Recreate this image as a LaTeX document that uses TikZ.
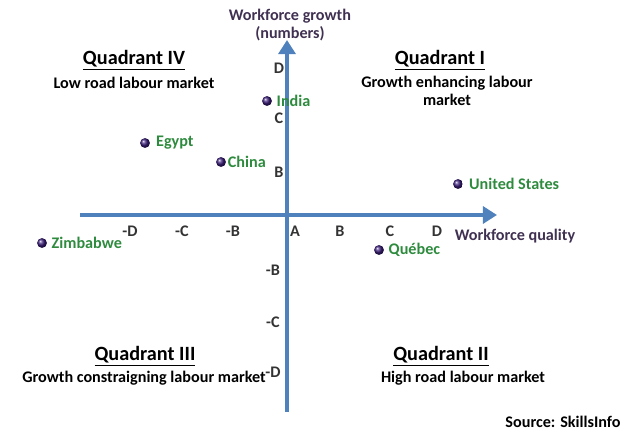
\documentclass[tikz,border=0pt]{standalone}
\usepackage{fontspec}
\setmainfont{Carlito}
\usetikzlibrary{arrows.meta}
\definecolor{axisblue}{HTML}{4F81BD}
\definecolor{titlepurple}{HTML}{403152}
\definecolor{labelgreen}{HTML}{2E8B3E}
\definecolor{dotpurple}{HTML}{3B1F7A}
\newcommand{\lbfont}{\fontsize{11.5}{13}\selectfont\bfseries}
\begin{document}
\begin{tikzpicture}[x=0.025cm,y=-0.025cm,
  tick label/.style={font=\lbfont,text=black!80},
  country/.style={font=\lbfont,text=labelgreen,anchor=west,inner sep=1pt},
  dot/.style={circle,inner sep=0pt,minimum size=7pt,ball color=dotpurple,draw=none},
  quad title/.style={font=\bfseries\Large},
  quad text/.style={font=\lbfont,align=center},
  axis/.style={axisblue,line width=2.8pt,-{Triangle[length=10pt,width=12pt]}}]
\useasboundingbox (0,0) rectangle (640,438);
% axes
\coordinate (xl) at (80,215);
\coordinate (xr) at (497,215);
\coordinate (yb) at (287,412);
\coordinate (yt) at (287,40);
\draw[axis] (xl) -- (xr);
\draw[axis] (yb) -- (yt);
\node[font=\lbfont,text=titlepurple,align=center] (ytitle) at (290,25) {Workforce growth\\(numbers)};
\node[font=\lbfont,text=titlepurple] (xtitle) at (515,236) {Workforce quality};
% tick labels
\node[tick label] (xmD) at (130,231) {-D};
\node[tick label] (xmC) at (182,231) {-C};
\node[tick label] (xmB) at (233,231) {-B};
\node[tick label] (xA) at (295,231) {A};
\node[tick label] (xB) at (340,231) {B};
\node[tick label] (xC) at (390,231) {C};
\node[tick label] (xD) at (437,231) {D};
\node[tick label] (yD) at (279,68) {D};
\node[tick label] (yC) at (279,118) {C};
\node[tick label] (yB) at (279,172) {B};
\node[tick label] (ymB) at (273,270) {-B};
\node[tick label] (ymC) at (273,322) {-C};
\node[tick label] (ymD) at (273,372) {-D};
% countries
\node[dot] (india) at (267,101) {};
\node[country] at ([xshift=2pt]india.east) {India};
\node[dot] (egypt) at (145,143) {};
\node[country] at ([xshift=3pt]egypt.east) {Egypt};
\node[dot] (china) at (221,162) {};
\node[country] at (china.east) {China};
\node[dot] (usa) at (458,184) {};
\node[country] at ([xshift=3pt]usa.east) {United States};
\node[dot] (zimb) at (42,243) {};
\node[country] at ([xshift=2pt]zimb.east) {Zimbabwe};
\node[dot] (quebec) at (379,250) {};
\node[country] at ([xshift=2pt]quebec.east) {Québec};
% quadrants
\node[quad title] (q4) at (134,60) {\underline{Quadrant IV}};
\node[quad text] (q4t) at (134,83) {Low road labour market};
\node[quad title] (q1) at (440,60) {\underline{Quadrant I}};
\node[quad text] (q1t) at (447,91) {Growth enhancing labour\\market};
\node[quad title] (q3) at (145,356) {\underline{Quadrant III}};
\node[quad text] (q3t) at (144,378) {Growth constraigning labour market};
\node[quad title] (q2) at (441,356) {\underline{Quadrant II}};
\node[quad text] (q2t) at (463,378) {High road labour market};
\node[font=\lbfont] (source) at (563,422) {Source: SkillsInfo};
\end{tikzpicture}
\end{document}
